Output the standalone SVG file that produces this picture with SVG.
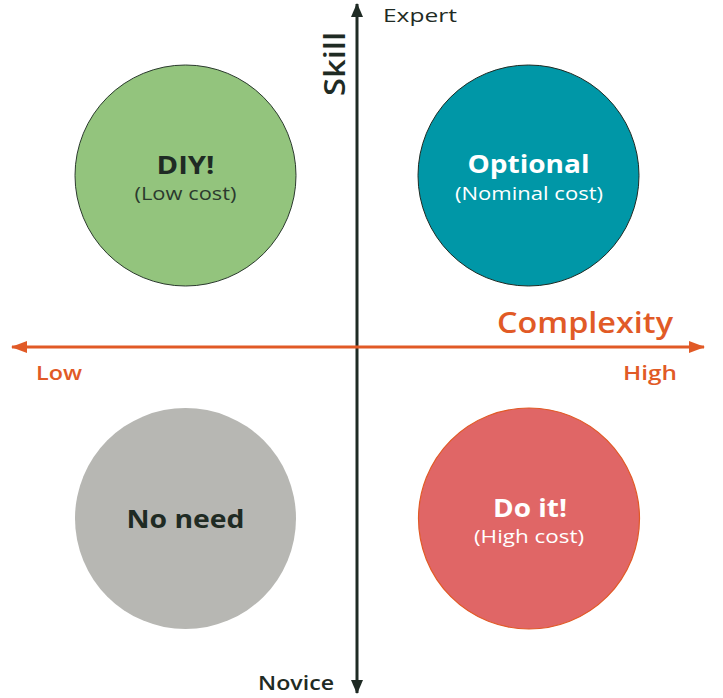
<svg xmlns="http://www.w3.org/2000/svg" width="723" height="698" viewBox="0 0 723 698">
<defs>
<marker id="ad" viewBox="0 0 14 12" refX="13" refY="6" markerWidth="14" markerHeight="12" markerUnits="userSpaceOnUse" orient="auto"><path d="M0,0 L14,6 L0,12 Z" fill="#1f2b24"/></marker>
<marker id="ao" viewBox="0 0 16 12" refX="15" refY="6" markerWidth="16" markerHeight="12" markerUnits="userSpaceOnUse" orient="auto"><path d="M0,0 L16,6 L0,12 Z" fill="#e15a26"/></marker>
<style>
text{font-family:"Open Sans","Noto Sans","Liberation Sans",sans-serif}
.dark{fill:#1f2b24}
.or{fill:#e15a26}
.b{font-weight:700}
.m{font-weight:600}
.t{font-size:25px;font-weight:700;text-anchor:middle}
.s{font-size:19px;text-anchor:middle}
</style>
</defs>
<rect width="723" height="698" fill="#ffffff"/>
<g id="connectors">
<line x1="357" y1="347" x2="357" y2="4" stroke="#1f2b24" stroke-width="3" marker-end="url(#ad)"/>
<line x1="357" y1="347" x2="357" y2="693" stroke="#1f2b24" stroke-width="3" marker-end="url(#ad)"/>
<line x1="357" y1="347" x2="12" y2="347" stroke="#e15a26" stroke-width="3" marker-end="url(#ao)"/>
<line x1="357" y1="347" x2="704" y2="347" stroke="#e15a26" stroke-width="3" marker-end="url(#ao)"/>
</g>
<g id="axis-labels">
<text x="383" y="22" class="dark" font-size="19" font-weight="500" textLength="74" lengthAdjust="spacingAndGlyphs">Expert</text>
<text x="258" y="690" class="dark m" font-size="19" textLength="76" lengthAdjust="spacingAndGlyphs">Novice</text>
<text transform="translate(345,96) rotate(-90)" class="dark m" font-size="29" textLength="64" lengthAdjust="spacingAndGlyphs">Skill</text>
<text x="497" y="333" class="or m" font-size="28" textLength="176" lengthAdjust="spacingAndGlyphs">Complexity</text>
<text x="36" y="380" class="or m" font-size="20" textLength="46" lengthAdjust="spacingAndGlyphs">Low</text>
<text x="623" y="380" class="or m" font-size="20" textLength="54" lengthAdjust="spacingAndGlyphs">High</text>
</g>
<g id="diy">
<circle cx="185.5" cy="175.5" r="110.5" fill="#93c47d" stroke="#2b3a2e" stroke-width="1"/>
<text x="185.5" y="174" class="t dark" textLength="58" lengthAdjust="spacingAndGlyphs">DIY!</text>
<text x="185.5" y="200" class="s" fill="#2b3a2e" textLength="102" lengthAdjust="spacingAndGlyphs">(Low cost)</text>
</g>
<g id="optional">
<circle cx="528.5" cy="175.5" r="110.5" fill="#0097a7" stroke="#1f2b24" stroke-width="1"/>
<text x="528.5" y="173" class="t" fill="#ffffff" textLength="122" lengthAdjust="spacingAndGlyphs">Optional</text>
<text x="529" y="200" class="s" fill="#ffffff" textLength="148" lengthAdjust="spacingAndGlyphs">(Nominal cost)</text>
</g>
<g id="no-need">
<circle cx="185.5" cy="518.5" r="110.5" fill="#b7b7b3"/>
<text x="185.5" y="528" class="t dark" textLength="118" lengthAdjust="spacingAndGlyphs">No need</text>
</g>
<g id="do-it">
<circle cx="529" cy="518.5" r="110.5" fill="#e06666" stroke="#e15a26" stroke-width="1.2"/>
<text x="530" y="517" class="t" fill="#ffffff" textLength="74" lengthAdjust="spacingAndGlyphs">Do it!</text>
<text x="529" y="543" class="s" fill="#ffffff" textLength="110" lengthAdjust="spacingAndGlyphs">(High cost)</text>
</g>
</svg>
